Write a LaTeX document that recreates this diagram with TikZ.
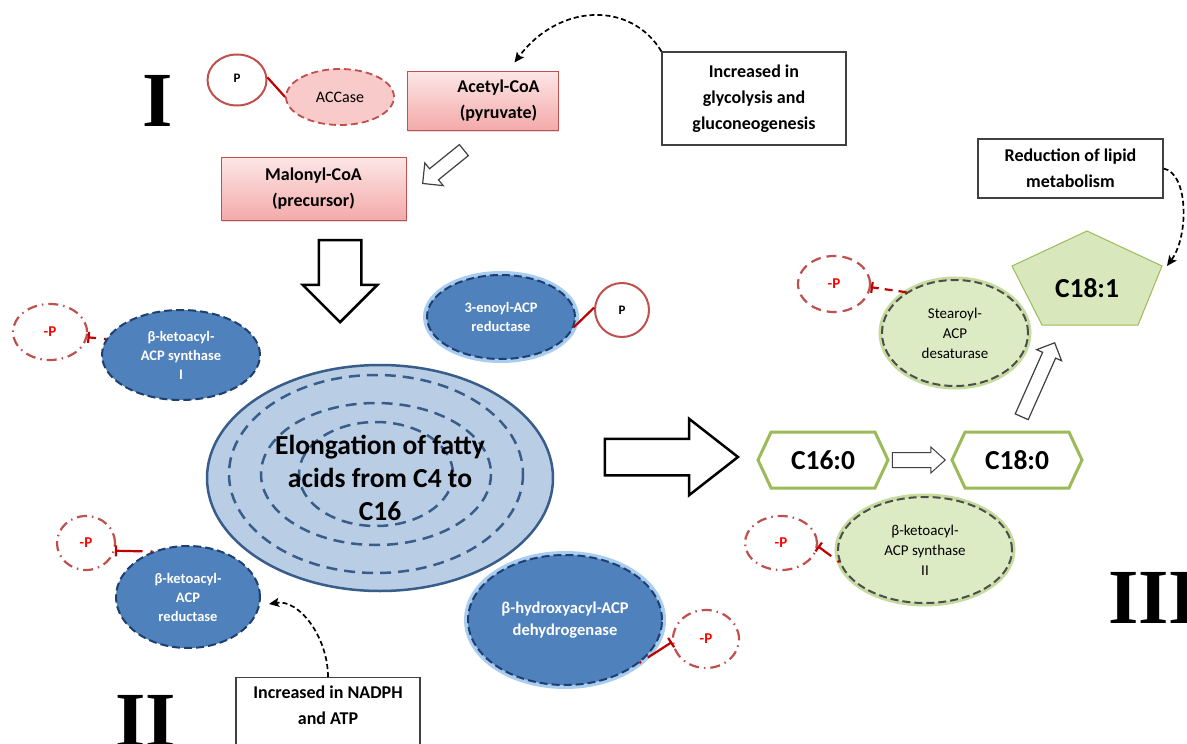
\documentclass[tikz,border=0pt]{standalone}
\usepackage{fontspec}
\setmainfont{Carlito}
\newfontfamily\romanfont{Liberation Serif}
\usetikzlibrary{shapes.geometric,shapes.arrows,shapes.symbols,arrows.meta,shadows}

\definecolor{pinkline}{HTML}{C0504D}
\definecolor{pinktop}{HTML}{FDE6E6}
\definecolor{pinkbot}{HTML}{F4AAAA}
\definecolor{accfill}{HTML}{F8CACA}
\definecolor{enzblue}{HTML}{4F81BD}
\definecolor{enzline}{HTML}{1F3F6E}
\definecolor{glowblue}{HTML}{A9CDF0}
\definecolor{corefill}{HTML}{B9CDE5}
\definecolor{coreline}{HTML}{385D8A}
\definecolor{leaffill}{HTML}{DDEBC5}
\definecolor{leafdash}{HTML}{4D4D4D}
\definecolor{glowgreen}{HTML}{C6DC9E}
\definecolor{leafline}{HTML}{9BBB59}
\definecolor{pentfill}{HTML}{D8E8BC}
\definecolor{pred}{HTML}{C0504D}
\definecolor{tiered}{HTML}{C00000}
\definecolor{boxline}{HTML}{404040}

\tikzset{
  pinkbox/.style={draw=pinkline, top color=pinktop, bottom color=pinkbot, line width=1pt,
    drop shadow={opacity=0.25, shadow xshift=1pt, shadow yshift=-2pt},
    align=center, font=\bfseries\fontsize{18}{25.5}\selectfont},
  infobox/.style={draw=boxline, line width=1.2pt, fill=white, align=center,
    font=\bfseries\fontsize{18}{26}\selectfont},
  enzyme/.style={ellipse, fill=enzblue, draw=enzline, line width=2pt,
    dash pattern=on 8pt off 4pt, text=white, inner sep=0pt, align=center,
    font=\bfseries\fontsize{14.5}{19}\selectfont},
  glowb/.style={preaction={draw=glowblue, line width=8pt, solid}},
  leafenz/.style={ellipse, fill=leaffill, draw=leafdash, line width=2pt,
    dash pattern=on 8pt off 4pt, inner sep=0pt, align=center,
    preaction={draw=glowgreen, line width=7pt, solid},
    font=\fontsize{15}{20}\selectfont},
  phos/.style={ellipse, draw=pred, line width=2pt, fill=white, inner sep=0pt,
    font=\bfseries\fontsize{13}{13}\selectfont},
  dephos/.style={ellipse, draw=pred, line width=2.2pt, inner sep=0pt, text=red,
    dash pattern=on 10pt off 5pt on 1.5pt off 5pt,
    font=\bfseries\fontsize{15}{15}\selectfont},
  tie/.style={draw=tiered, line width=2.2pt},
  inhib/.style={draw=tiered, line width=2.2pt, dash pattern=on 2pt off 8pt on 30pt,
    -{Bar[width=11pt,line width=2.2pt]}},
  cue/.style={draw=black, line width=1.7pt, dash pattern=on 5pt off 3pt,
    -{Stealth[length=10pt,width=9pt,inset=2pt]}},
  blockarrow/.style={single arrow, draw=black, fill=white, line width=#1,
    single arrow head indent=0pt, anchor=tip},
  fatty/.style={signal, signal to=east and west, signal pointer angle=130,
    draw=leafline, line width=3pt, fill=white, minimum width=130pt, minimum height=56pt,
    font=\bfseries\fontsize{27.5}{27.5}\selectfont},
  ring/.style={draw=coreline, line width=2.5pt, dash pattern=on 11pt off 7pt},
  numeral/.style={inner sep=0pt, font=\romanfont\bfseries\fontsize{78}{80}\selectfont}
}

\begin{document}
\begin{tikzpicture}[x=1pt,y=-1pt]
\useasboundingbox (0,0) rectangle (1187,744);
\fill[white] (0,0) rectangle (1187,744);

%% ---- stage I ----
\node[numeral] (secI) at (158,101) {I};
\node[phos, minimum width=59pt, minimum height=51pt] (pTop) at (237,80) {\raisebox{4pt}{P}};
\node[ellipse, draw=pinkline, fill=accfill, line width=1.8pt, dash pattern=on 7pt off 4pt,
  minimum width=108pt, minimum height=56pt, inner sep=0pt,
  font=\fontsize{16}{16}\selectfont] (accase) at (340,97) {ACCase};
\node[pinkbox, minimum width=151pt, minimum height=59pt] (acetyl) at (482.5,100.5)
  {\hspace*{32pt}Acetyl-CoA\\\hspace*{32pt}(pyruvate)};
\node[pinkbox, minimum width=185pt, minimum height=63pt] (malonyl) at (313.5,188.5) {Malonyl-CoA\\(precursor)};
\node[infobox, minimum width=184pt, minimum height=93pt] (glyco) at (754,98.5) {Increased in\\glycolysis and\\gluconeogenesis};

\draw[tie] (pTop.5) -- (accase.west);
\draw[cue] (glyco.north west) .. controls +(-30,-50) and +(45,-60) .. ([xshift=32pt,yshift=8pt]acetyl.north);
\node[blockarrow=1.2pt, draw=boxline, minimum height=53pt, inner sep=6.5pt,
  single arrow head extend=7.5pt, minimum width=28pt, rotate=-141] (toMal) at (422,184) {};

%% ---- stage II ----
\node[blockarrow=2.5pt, minimum height=82pt, inner sep=20pt,
  single arrow head extend=16pt, minimum width=72pt, rotate=-90] (down) at (340,324) {};

%Shape: central ellipse with dashed rings
\node[ellipse, fill=corefill, draw=coreline, line width=2.5pt, inner sep=0pt,
  minimum width=346pt, minimum height=226pt, align=center,
  font=\bfseries\fontsize{27.5}{33}\selectfont,
  path picture={
    \foreach \rx/\ry in {147/99, 115/71, 77/52}
      \draw[ring] ([shift={(-4,-4)}]path picture bounding box.center) ellipse [x radius=\rx, y radius=\ry];
  }] (core) at (380,478) {Elongation of fatty\\acids from C4 to\\C16};

\node[enzyme, minimum width=158pt, minimum height=90pt] (ks1) at (181,355) {β-ketoacyl-\\ACP synthase\\I};
\node[enzyme, glowb, minimum width=148pt, minimum height=84pt] (enoyl) at (501,317) {3-enoyl-ACP\\reductase};
\node[enzyme, minimum width=144pt, minimum height=102pt] (kr) at (188,597) {β-ketoacyl-\\ACP\\reductase};
\node[enzyme, glowb, minimum width=194pt, minimum height=130pt,
  font=\bfseries\fontsize{16.5}{22}\selectfont] (hd) at (565,620) {β-hydroxyacyl-ACP\\dehydrogenase};

\node[phos, minimum width=54pt, minimum height=54pt] (pEnoyl) at (622,310) {P};
\node[dephos, minimum width=74pt, minimum height=56pt] (mp1) at (50,332) {-P};
\node[dephos, minimum width=58pt, minimum height=54pt] (mp2) at (86,543) {-P};
\node[dephos, minimum width=66pt, minimum height=58pt] (mp3) at (706,639) {-P};

\draw[tie] (enoyl.-8) -- (pEnoyl.175);
\draw[inhib] (ks1.168) -- (mp1.-8);
\draw[inhib] (kr.128) -- (mp2.-15);
\draw[inhib] (hd.-30) -- (mp3.185);

\node[infobox, minimum width=184pt, anchor=north, inner ysep=8pt, text depth=30pt] (nadph) at (328,677) {Increased in NADPH\\and ATP};
\draw[cue] (nadph.north) .. controls +(0,-40) and +(30,-5) .. ([xshift=8pt,yshift=-7pt]kr.east);

\node[numeral] (secII) at (145.5,721) {II};

%% ---- stage III ----
\node[blockarrow=2.5pt, minimum height=133pt, inner sep=17pt, single arrow tip angle=76,
  single arrow head extend=20pt, minimum width=74pt] (right) at (740,457) {};

\node[fatty] (c160) at (823,460) {C16:0};
\node[fatty] (c180) at (1017,460) {C18:0};
\node[blockarrow=1pt, draw=boxline, minimum height=53pt, inner sep=7pt, single arrow tip angle=84,
  single arrow head extend=5.5pt, minimum width=25pt] (elong) at (946,460) {};

%Shape: pentagon
\coordinate (pt1) at (1087,231);
\coordinate (pt2) at (1162,266);
\coordinate (pt3) at (1138,325);
\coordinate (pt4) at (1042,325);
\coordinate (pt5) at (1012,266);
\draw[draw=leafline, fill=pentfill, line width=1pt] (pt1) -- (pt2) -- (pt3) -- (pt4) -- (pt5) -- cycle;
\node[font=\bfseries\fontsize{27.5}{27.5}\selectfont] (c181) at (1087,288) {C18:1};

\node[blockarrow=1.2pt, draw=boxline, minimum height=81pt, inner sep=6.5pt,
  single arrow head extend=6.5pt, minimum width=26pt, rotate=66] (desat) at (1055,342) {};

\node[leafenz, minimum width=146pt, minimum height=106pt] (sad) at (955,333) {Stearoyl-\\ACP\\desaturase};
\node[leafenz, minimum width=174pt, minimum height=106pt] (ks2) at (925,550) {β-ketoacyl-\\ACP synthase\\II};

\node[dephos, dash pattern=on 10pt off 6pt, minimum width=72pt, minimum height=56pt] (mp5) at (834,284) {-P};
\node[dephos, minimum width=72pt, minimum height=54pt] (mp4) at (781,543) {-P};

\draw[inhib, dash pattern=on 8pt off 6pt] (sad.140) -- (mp5.-5);
\draw[inhib] (ks2.188) -- (mp4.-5);

\node[infobox, minimum width=185pt, minimum height=59pt] (lipid) at (1070.5,168.5) {Reduction of lipid\\metabolism};
\draw[cue] (lipid.east) .. controls +(25,5) and +(22,-30) .. ([xshift=5pt]pt2);

\node[numeral, anchor=west] (secIII) at (1108,598) {III};

\end{tikzpicture}
\end{document}
